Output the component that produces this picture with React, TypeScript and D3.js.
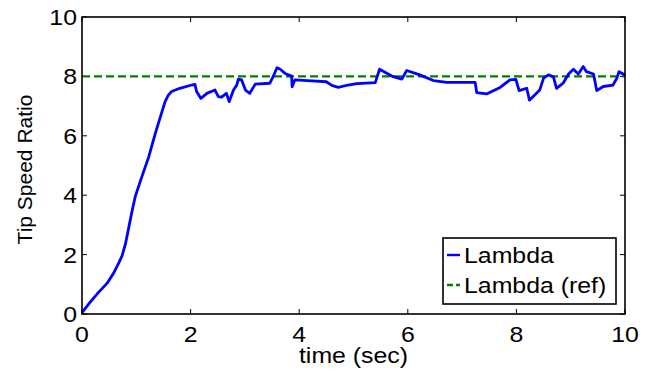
import React from "react";
import * as d3 from "d3";

const timeValues = [
  0, 0.15, 0.3, 0.46, 0.58, 0.68, 0.74, 0.8, 0.86, 0.92, 0.98, 1.07, 1.23, 1.35, 1.47, 1.53, 1.59, 1.65, 1.8,
  2.02, 2.08, 2.11, 2.19, 2.3, 2.45, 2.51, 2.57, 2.66, 2.71, 2.79, 2.85, 2.88, 2.94, 3.01, 3.09, 3.19, 3.46,
  3.52, 3.59, 3.65, 3.74, 3.86, 3.87, 3.92, 4.23, 4.5, 4.6, 4.72, 4.9, 5.06, 5.4, 5.48, 5.73, 5.89, 5.98,
  6.22, 6.47, 6.72, 7.24, 7.27, 7.45, 7.7, 7.88, 7.99, 8.05, 8.19, 8.24, 8.43, 8.5, 8.59, 8.68, 8.74, 8.86,
  8.96, 9.05, 9.14, 9.23, 9.29, 9.42, 9.48, 9.6, 9.78, 9.85, 9.89, 10,
];
const lambdaValues = [
  0.05, 0.4, 0.72, 1.03, 1.37, 1.73, 1.97, 2.36, 2.9, 3.45, 3.95, 4.45, 5.3, 6.08, 6.8, 7.15, 7.37, 7.49, 7.6,
  7.71, 7.73, 7.49, 7.26, 7.43, 7.54, 7.32, 7.3, 7.43, 7.15, 7.54, 7.71, 7.91, 7.88, 7.54, 7.43, 7.74, 7.77,
  7.99, 8.29, 8.24, 8.1, 8.01, 7.65, 7.88, 7.85, 7.82, 7.7, 7.63, 7.71, 7.76, 7.79, 8.24, 7.99, 7.91, 8.2,
  8.05, 7.86, 7.8, 7.8, 7.45, 7.41, 7.63, 7.88, 7.9, 7.52, 7.6, 7.2, 7.54, 7.94, 8.05, 7.99, 7.6, 7.77,
  8.08, 8.24, 8.08, 8.33, 8.16, 8.08, 7.52, 7.66, 7.71, 7.94, 8.16, 8.05,
];
const lambdaRef = 8;
const xTicks = [0, 2, 4, 6, 8, 10];
const yTicks = [0, 2, 4, 6, 8, 10];
const legendLabels = ["Lambda", "Lambda (ref)"];

const W = 654;
const H = 376;
const left = 82;
const right = 625;
const top = 17;
const bottom = 314;
const SX = 1.13;
const FONT = "'Liberation Sans', Arial, Helvetica, sans-serif";

function HText({ x, y, anchor, children, size = 22 }: any) {
  return (
    <text
      transform={`translate(${x},${y}) scale(${SX},1)`}
      textAnchor={anchor}
      fontFamily={FONT}
      fontSize={size}
      fill="#000"
    >
      {children}
    </text>
  );
}

export default function App() {
  const x = d3.scaleLinear().domain([0, 10]).range([left, right]);
  const y = d3.scaleLinear().domain([0, 10]).range([bottom, top]);
  const pts: [number, number][] = timeValues.map((t, i) => [t, lambdaValues[i]]);
  const line = d3
    .line<[number, number]>()
    .x((d) => x(d[0]))
    .y((d) => y(d[1]));
  const tl = 5;
  const lx = 443, ly = 238, lw = 173, lh = 66;

  return (
    <svg width={W} height={H} style={{ position: "absolute", left: 0, top: 0, background: "#fff" }}>
      <rect x={0} y={0} width={W} height={H} fill="#fff" />
      {xTicks.map((t) => (
        <g key={"xt" + t}>
          <line x1={x(t)} x2={x(t)} y1={bottom} y2={bottom - tl} stroke="#000" strokeWidth={1} />
          <line x1={x(t)} x2={x(t)} y1={top} y2={top + tl} stroke="#000" strokeWidth={1} />
          <HText x={x(t)} y={342} anchor="middle">{t}</HText>
        </g>
      ))}
      {yTicks.map((t) => (
        <g key={"yt" + t}>
          <line x1={left} x2={left + tl} y1={y(t)} y2={y(t)} stroke="#000" strokeWidth={1} />
          <line x1={right} x2={right - tl} y1={y(t)} y2={y(t)} stroke="#000" strokeWidth={1} />
          <HText x={77} y={y(t) + 8} anchor="end">{t}</HText>
        </g>
      ))}
      <line
        x1={x(0)}
        x2={x(10)}
        y1={y(lambdaRef)}
        y2={y(lambdaRef)}
        stroke="#008000"
        strokeWidth={2.4}
        strokeDasharray="8,4"
      />
      <path d={line(pts) || ""} fill="none" stroke="#0000ff" strokeWidth={2.8} strokeLinejoin="round" />
      <rect x={left} y={top} width={right - left} height={bottom - top} fill="none" stroke="#000" strokeWidth={1.6} />
      <rect x={lx} y={ly} width={lw} height={lh} fill="#fff" stroke="#000" strokeWidth={1.6} />
      <line x1={447} x2={460} y1={255} y2={255} stroke="#0000ff" strokeWidth={2.4} />
      <line x1={447} x2={460} y1={285} y2={285} stroke="#008000" strokeWidth={2.4} strokeDasharray="6,3" />
      <HText x={464} y={263} anchor="start">{legendLabels[0]}</HText>
      <HText x={464} y={293} anchor="start">{legendLabels[1]}</HText>
      <HText x={(left + right) / 2} y={363} anchor="middle" size={22}>time (sec)</HText>
      <text
        transform={`translate(32,${(top + bottom) / 2 + 4}) rotate(-90)`}
        textAnchor="middle"
        fontFamily={FONT}
        fontSize={21}
        fill="#000"
      >
        Tip Speed Ratio
      </text>
    </svg>
  );
}
